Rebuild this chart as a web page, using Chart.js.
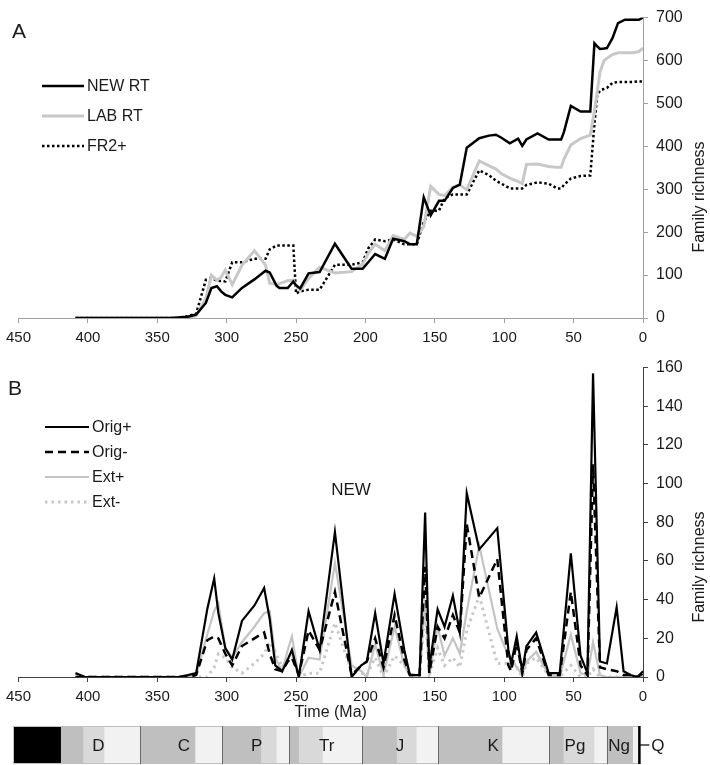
<!DOCTYPE html>
<html lang="en">
<head>
    <meta charset="UTF-8">
    <title>Family richness through time</title>
    <script src="https://cdn.jsdelivr.net/npm/chart.js"></script>
    <style>
        body { margin: 0; background: #fff; }
        .wrap { position: relative; width: 710px; height: 765px; }
        canvas { position: absolute; left: 0; }
        #chartA { top: 0; }
        #chartB { top: 350px; }
        #scaleBar { top: 722px; }
    </style>
</head>
<body>
<div class="wrap">
    <canvas id="chartA" width="710" height="350"></canvas>
    <canvas id="chartB" width="710" height="374"></canvas>
    <canvas id="scaleBar" width="710" height="43"></canvas>
</div>
<script>
    // Panel A - range-through richness (ages in Ma)
    const agesA = [409, 400, 380, 360, 340, 335, 328, 322, 315, 311, 307, 304, 301, 296, 289, 280, 272, 269, 264, 262, 256, 252, 250, 247, 241, 233, 222, 210, 202, 198, 193, 186, 180, 172, 168, 163, 158, 153, 147, 143, 137, 132, 127, 118, 111, 106, 102, 96, 90, 87, 84, 76, 68, 62, 59, 57, 52, 45, 38, 35, 33, 31, 28, 26, 22, 18, 13, 7, 3, 0];
    const newRT = [0, 0, 0, 0, 0, 1, 3, 8, 35, 70, 74, 62, 54, 48, 70, 90, 110, 106, 75, 70, 70, 85, 76, 69, 104, 107, 173, 115, 115, 130, 149, 138, 185, 179, 172, 172, 281, 239, 273, 273, 303, 311, 397, 419, 425, 427, 420, 407, 418, 401, 416, 430, 416, 416, 416, 433, 494, 481, 481, 640, 633, 627, 628, 629, 652, 687, 695, 695, 695, 700];
    const labRT = [0, 0, 0, 0, 0, 0, 2, 5, 45, 100, 88, 95, 112, 78, 123, 157, 123, 81, 78, 80, 87, 88, 75, 65, 92, 118, 105, 108, 126, 150, 172, 157, 192, 183, 198, 191, 213, 307, 288, 285, 305, 310, 299, 366, 355, 347, 336, 326, 318, 313, 358, 359, 353, 351, 351, 370, 403, 418, 426, 481, 527, 573, 600, 605, 614, 618, 618, 618, 621, 629];
    const fr2 = [0, 0, 0, 0, 0, 1, 4, 10, 89, 93, 87, 86, 85, 130, 130, 138, 138, 160, 169, 169, 169, 169, 57, 62, 66, 66, 124, 124, 130, 162, 183, 179, 183, 172, 172, 172, 224, 250, 250, 279, 288, 288, 288, 344, 333, 320, 313, 302, 302, 302, 310, 316, 313, 302, 302, 310, 325, 331, 332, 452, 519, 530, 534, 536, 548, 550, 550, 550, 552, 550];

    // Panel B - origination / extinction counts
    const agesB = [409, 402, 380, 360, 335, 328, 322, 314, 309, 306, 301, 296, 289, 280, 273, 269, 265, 260, 256, 253, 248, 241, 233, 222, 210, 203, 199, 193, 187, 179, 172, 168, 161, 157, 154, 148, 143, 137, 132, 127, 118, 105, 97, 95, 91, 87, 84, 77, 68, 60, 52, 45, 40, 36, 31, 26, 19, 14, 9, 4, 0];
    const origPlus = [2, 0, 0, 0, 0, 1, 2, 35, 51, 33, 15, 9, 29, 37, 46, 30, 6, 3, 9, 14, 0, 34, 14, 75, 0, 6, 8, 33, 7, 43, 14, 1, 1, 85, 5, 35, 26, 42, 23, 95, 66, 77, 14, 7, 21, 3, 16, 23, 2, 2, 64, 11, 2, 157, 8, 7, 36, 3, 1, 0, 3];
    const origMinus = [0, 0, 0, 0, 0, 0, 1, 19, 21, 20, 12, 6, 16, 20, 23, 12, 4, 3, 8, 10, 1, 24, 14, 44, 1, 6, 8, 20, 5, 32, 9, 1, 1, 57, 2, 26, 20, 32, 23, 79, 41, 61, 6, 3, 18, 2, 14, 20, 1, 1, 44, 6, 1, 110, 5, 4, 3, 1, 1, 0, 2];
    const extPlus = [0, 0, 0, 0, 0, 0, 1, 22, 34, 38, 15, 10, 18, 26, 33, 34, 10, 3, 14, 21, 0, 10, 9, 59, 6, 3, 0, 17, 1, 26, 6, 1, 1, 40, 1, 26, 11, 20, 12, 34, 68, 25, 11, 10, 5, 1, 8, 13, 1, 0, 22, 2, 1, 18, 1, 0, 0, 0, 0, 0, 0];
    const extMinus = [0, 0, 0, 0, 0, 0, 0, 0, 5, 12, 10, 5, 2, 7, 12, 18, 13, 5, 10, 12, 0, 2, 2, 28, 3, 2, 1, 10, 0, 11, 6, 1, 1, 34, 1, 15, 6, 10, 5, 24, 42, 7, 7, 6, 5, 0, 7, 10, 1, 0, 6, 0, 0, 4, 0, 0, 0, 0, 0, 0, 1];

    // Geological time scale (Ma)
    const stageBounds = [450, 416, 400, 385, 359, 320, 300.7, 273, 262, 253, 246, 229, 200.7, 176, 162, 146.6, 100.7, 67, 57, 35, 26, 7.4, 2.6];
    const stageShade = ['pre', 'early', 'middle', 'late', 'early', 'late', 'early', 'middle', 'late', 'early', 'middle', 'late', 'early', 'middle', 'late', 'early', 'late', 'early', 'middle', 'late', 'early', 'late'];
    const periodBreaks = [359, 300.7, 253, 200.7, 146.6, 67, 26];
    const periodNames = ['D', 'C', 'P', 'Tr', 'J', 'K', 'Pg', 'Ng'];
    const periodLabelAge = [389, 328, 276, 226, 173.6, 107, 48.6, 17];
    const quaternaryBase = 2.6;

    const fontFamily = "'Liberation Sans', Arial, sans-serif";
    const shadeColor = { pre: '#000000', early: '#bfbfbf', middle: '#d9d9d9', late: '#f2f2f2' };

    function points(ages, values) {
        return ages.map((a, i) => ({ x: a, y: values[i] }));
    }

    // letter, legend, rotated axis title and note
    const panelDecor = {
        id: 'panelDecor',
        afterDraw(chart, args, opts) {
            const ctx = chart.ctx;
            ctx.save();
            ctx.fillStyle = '#1a1a1a';
            ctx.textBaseline = 'middle';
            ctx.textAlign = 'left';
            ctx.font = '21px ' + fontFamily;
            ctx.fillText(opts.letter, opts.letterX, opts.letterY);

            ctx.font = '16px ' + fontFamily;
            chart.data.datasets.forEach((ds, i) => {
                const y = opts.legendY + i * opts.legendGap;
                ctx.beginPath();
                ctx.strokeStyle = ds.borderColor;
                ctx.lineWidth = ds.borderWidth;
                ctx.lineCap = ds.borderCapStyle || 'butt';
                ctx.setLineDash(ds.borderDash || []);
                ctx.moveTo(opts.legendX0, y);
                ctx.lineTo(opts.legendX1, y);
                ctx.stroke();
                ctx.setLineDash([]);
                ctx.fillText(ds.label, opts.legendX1 + 3, y + 1);
            });

            if (opts.note) {
                ctx.font = '17px ' + fontFamily;
                ctx.textAlign = 'center';
                ctx.fillText(opts.note, opts.noteX, opts.noteY);
            }

            ctx.font = '16px ' + fontFamily;
            ctx.textAlign = 'center';
            ctx.translate(opts.titleX, opts.titleY);
            ctx.rotate(-Math.PI / 2);
            ctx.fillText('Family richness', 0, 0);
            ctx.restore();
        }
    };

    function timeAxis(color, height, title) {
        return {
            type: 'linear',
            reverse: true,
            min: 0,
            max: 450,
            ticks: { stepSize: 50, padding: 6, color: '#1a1a1a', font: { family: fontFamily, size: 15 } },
            grid: { drawOnChartArea: false, drawTicks: true, tickLength: 5, color: color },
            border: { display: true, color: color, width: 1 },
            title: title ? { display: true, text: title, color: '#1a1a1a', font: { family: fontFamily, size: 16 }, padding: { top: 0, bottom: 2 } } : { display: false },
            afterFit(scale) { scale.height = height; }
        };
    }

    function richnessAxis(color, max, step) {
        return {
            position: 'right',
            min: 0,
            max: max,
            ticks: { stepSize: step, padding: 8, color: '#1a1a1a', font: { family: fontFamily, size: 16 } },
            grid: { drawOnChartArea: false, drawTicks: true, tickLength: 5, color: color },
            border: { display: true, color: color, width: 1 },
            afterFit(scale) { scale.width = 67; }
        };
    }

    // Panel A
    new Chart(document.getElementById('chartA'), {
        type: 'line',
        data: {
            datasets: [
                { label: 'NEW RT', data: points(agesA, newRT), borderColor: '#000000', borderWidth: 2.5 },
                { label: 'LAB RT', data: points(agesA, labRT), borderColor: '#c8c8c8', borderWidth: 3 },
                { label: 'FR2+', data: points(agesA, fr2), borderColor: '#000000', borderWidth: 2.5, borderDash: [2.5, 2.5] }
            ]
        },
        options: {
            responsive: false,
            animation: false,
            devicePixelRatio: 1,
            layout: { padding: { left: 13, top: 7, right: 0, bottom: 0 } },
            elements: { point: { radius: 0 }, line: { tension: 0, fill: false } },
            plugins: {
                legend: { display: false },
                tooltip: { enabled: false },
                panelDecor: {
                    letter: 'A', letterX: 12, letterY: 32,
                    legendX0: 42, legendX1: 84, legendY: 86, legendGap: 30,
                    titleX: 700, titleY: 197
                }
            },
            scales: {
                x: timeAxis('#a0a0a0', 32, null),
                y: richnessAxis('#a0a0a0', 700, 100)
            }
        },
        plugins: [panelDecor]
    });

    // Panel B
    new Chart(document.getElementById('chartB'), {
        type: 'line',
        data: {
            datasets: [
                { label: 'Orig+', data: points(agesB, origPlus), borderColor: '#000000', borderWidth: 2.2 },
                { label: 'Orig-', data: points(agesB, origMinus), borderColor: '#000000', borderWidth: 2.5, borderDash: [8, 5] },
                { label: 'Ext+', data: points(agesB, extPlus), borderColor: '#c4c4c4', borderWidth: 2.2 },
                { label: 'Ext-', data: points(agesB, extMinus), borderColor: '#c8c8c8', borderWidth: 3, borderDash: [2.5, 4] }
            ]
        },
        options: {
            responsive: false,
            animation: false,
            devicePixelRatio: 1,
            layout: { padding: { left: 13, top: 13, right: 0, bottom: 0 } },
            elements: { point: { radius: 0 }, line: { tension: 0, fill: false } },
            plugins: {
                legend: { display: false },
                tooltip: { enabled: false },
                panelDecor: {
                    letter: 'B', letterX: 8, letterY: 39,
                    legendX0: 45, legendX1: 89, legendY: 77, legendGap: 25,
                    note: 'NEW', noteX: 351, noteY: 140,
                    titleX: 700, titleY: 217
                }
            },
            scales: {
                x: timeAxis('#404040', 47, 'Time (Ma)'),
                y: richnessAxis('#404040', 160, 20)
            }
        },
        plugins: [panelDecor]
    });

    // Time scale bar
    const scaleDecor = {
        id: 'scaleDecor',
        afterDraw(chart) {
            const ctx = chart.ctx;
            const xs = chart.scales.x;
            const top = chart.chartArea.top;
            const bottom = chart.chartArea.bottom;
            const mid = (top + bottom) / 2;
            ctx.save();
            // outline
            ctx.strokeStyle = '#c0c0c0';
            ctx.lineWidth = 1;
            const xl = xs.getPixelForValue(stageBounds[0]);
            const xr = xs.getPixelForValue(quaternaryBase);
            ctx.strokeRect(xl + 0.5, top + 0.5, xr - xl, bottom - top - 1);
            // period breaks
            ctx.strokeStyle = '#6a6a6a';
            periodBreaks.forEach(a => {
                const x = Math.round(xs.getPixelForValue(a)) + 0.5;
                ctx.beginPath();
                ctx.moveTo(x, top);
                ctx.lineTo(x, bottom);
                ctx.stroke();
            });
            // Quaternary
            ctx.strokeStyle = '#000';
            ctx.lineWidth = 2.5;
            ctx.beginPath();
            ctx.moveTo(xr, top);
            ctx.lineTo(xr, bottom);
            ctx.stroke();
            ctx.lineWidth = 1.2;
            ctx.beginPath();
            ctx.moveTo(xr, mid);
            ctx.lineTo(xr + 10, mid);
            ctx.stroke();
            // labels
            ctx.fillStyle = '#1a1a1a';
            ctx.font = '17px ' + fontFamily;
            ctx.textAlign = 'center';
            ctx.textBaseline = 'middle';
            periodNames.forEach((name, i) => {
                ctx.fillText(name, xs.getPixelForValue(periodLabelAge[i]), mid + 1);
            });
            ctx.textAlign = 'left';
            ctx.fillText('Q', xr + 12, mid + 1);
            ctx.restore();
        }
    };

    new Chart(document.getElementById('scaleBar'), {
        type: 'bar',
        data: {
            labels: [''],
            datasets: stageShade.map((shade, i) => ({
                data: [[stageBounds[i], stageBounds[i + 1]]],
                backgroundColor: shadeColor[shade],
                borderWidth: 0,
                grouped: false,
                barPercentage: 1,
                categoryPercentage: 1
            }))
        },
        options: {
            indexAxis: 'y',
            responsive: false,
            animation: false,
            devicePixelRatio: 1,
            layout: { padding: { left: 13, top: 4, right: 67, bottom: 1 } },
            plugins: { legend: { display: false }, tooltip: { enabled: false } },
            scales: {
                x: { type: 'linear', reverse: true, min: 0, max: 450, display: false },
                y: { display: false }
            }
        },
        plugins: [scaleDecor]
    });
</script>
</body>
</html>
